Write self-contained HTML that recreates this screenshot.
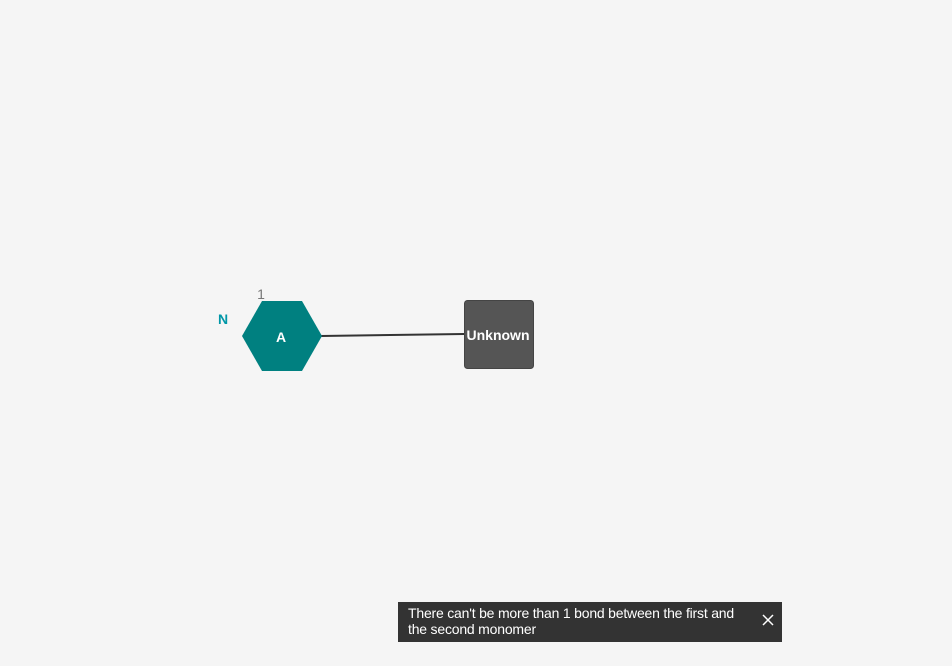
<!DOCTYPE html>
<html><head><style>
html,body{margin:0;padding:0;width:952px;height:666px;background:#f5f5f5;overflow:hidden;font-family:"Liberation Sans",sans-serif;}
.toast{position:absolute;left:398px;top:602px;width:384px;height:40px;background:#333;color:#fff;font-size:14px;line-height:16px;box-sizing:border-box;padding:3px 30px 0 10px;letter-spacing:-0.2px;}
.x{position:absolute;right:8px;top:12px;}
</style></head><body>
<svg width="952" height="666" style="position:absolute;left:0;top:0">
<line x1="321" y1="336" x2="464" y2="334" stroke="#333" stroke-width="2"/>
<polygon points="262,301 302,301 322,336 302,371 262,371 242,336" fill="#008080"/>
<text x="281" y="342" fill="#fff" font-family="Liberation Sans" font-weight="bold" font-size="14" text-anchor="middle">A</text>
<text x="261" y="299" fill="#777" font-family="Liberation Sans" font-size="14" text-anchor="middle">1</text>
<text x="223" y="324" fill="#0097a7" font-family="Liberation Sans" font-weight="bold" font-size="14" text-anchor="middle">N</text>
<rect x="464.5" y="300.5" width="69" height="68" rx="3" fill="#555" stroke="#444"/>
<text x="498" y="340" fill="#fff" font-family="Liberation Sans" font-weight="bold" font-size="14" text-anchor="middle">Unknown</text>
</svg>
<div class="toast">There can't be more than 1 bond between the first and the second monomer
<svg class="x" width="12" height="12"><path d="M1,1L11,11M11,1L1,11" stroke="#fff" stroke-width="1.5"/></svg></div>
</body></html>
